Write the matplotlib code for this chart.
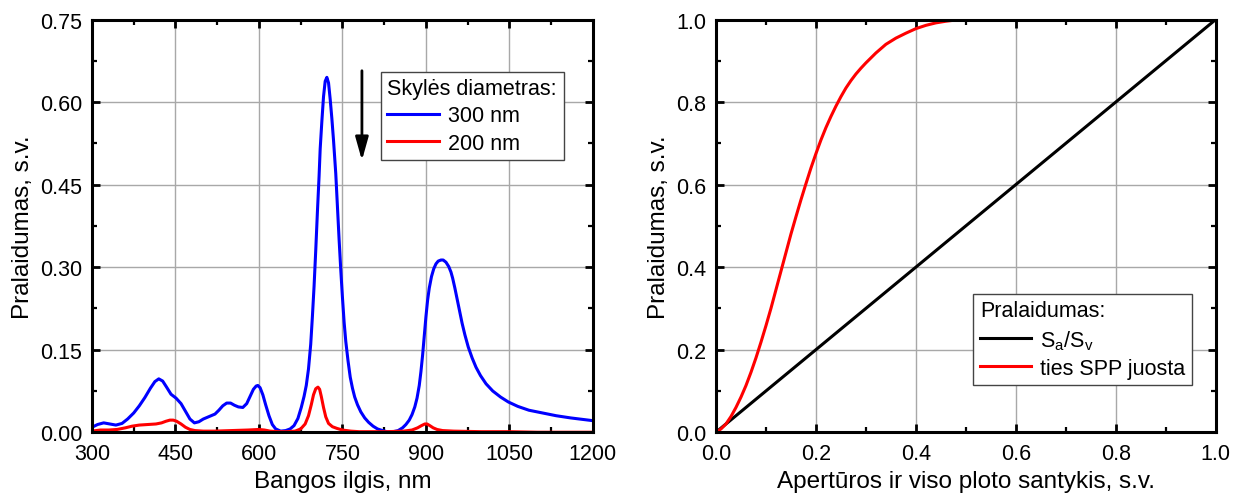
import matplotlib.pyplot as plt
from matplotlib.ticker import MultipleLocator

plt.rcParams['font.family'] = ['Liberation Sans', 'DejaVu Sans']

# left panel: transmission spectra
wl_300 = [300, 310, 321, 332, 343, 354, 364, 375, 385, 395, 405, 413, 420, 427, 434, 442, 451, 460,
          468, 476, 484, 492, 500, 507, 514, 521, 528, 535, 542, 549, 556, 563, 571, 578, 584, 590,
          595, 598, 602, 607, 612, 618, 624, 630, 639, 648, 656, 663, 670, 676, 681, 685, 689, 693,
          696, 699, 702, 705, 708, 710, 713, 716, 719, 722, 725, 728, 731, 734, 738, 741, 744, 747,
          750, 753, 756, 760, 764, 768, 772, 777, 783, 790, 797, 805, 813, 822, 830, 841, 850, 858,
          864, 870, 875, 880, 884, 888, 891, 894, 897, 900,
          903, 906, 910, 914, 918, 922, 927, 931, 936, 941, 945, 948, 952, 956, 960, 965, 970, 976,
          983, 990, 998, 1008, 1020, 1034, 1048, 1065, 1085, 1110, 1134, 1160, 1185, 1200]
tr_300 = [0.009, 0.014, 0.017, 0.015, 0.013, 0.016, 0.024, 0.035, 0.048, 0.063, 0.080, 0.092, 0.097,
          0.093, 0.082, 0.069, 0.062, 0.052, 0.038, 0.024, 0.017, 0.019, 0.024, 0.027, 0.030, 0.033,
          0.040, 0.048, 0.053, 0.053, 0.049, 0.046, 0.045, 0.052, 0.065, 0.078, 0.084, 0.085, 0.081,
          0.068, 0.050, 0.030, 0.014, 0.006, 0.002, 0.003, 0.006, 0.012, 0.025, 0.045, 0.065, 0.085,
          0.115, 0.160, 0.210, 0.265, 0.330, 0.400, 0.465, 0.515, 0.565, 0.610, 0.638, 0.645, 0.635,
          0.605, 0.570, 0.530, 0.470, 0.410, 0.350, 0.295, 0.245, 0.200, 0.165, 0.130, 0.100, 0.080,
          0.064, 0.050, 0.037, 0.026, 0.018, 0.011, 0.006, 0.003, 0.001, 0.001, 0.003, 0.008, 0.014,
          0.022, 0.032, 0.046, 0.062, 0.085, 0.110, 0.140, 0.175, 0.210,
          0.240, 0.262, 0.283, 0.297, 0.306, 0.311, 0.313, 0.313, 0.309, 0.301, 0.291, 0.280, 0.262,
          0.242, 0.222, 0.198, 0.177, 0.155, 0.135, 0.118, 0.103, 0.088, 0.075, 0.064, 0.055, 0.047,
          0.040, 0.035, 0.030, 0.026, 0.023, 0.021]

wl_200 = [300, 315, 330, 345, 360, 372, 385, 400, 415, 425, 433, 440, 446, 452, 460, 468, 476, 485,
          500, 520, 550, 580, 600, 610, 620, 635, 650, 665, 675, 683, 689, 694, 698, 702, 706, 709,
          712, 716, 720, 725, 732, 740, 750, 765, 780, 800, 830, 860, 875, 885, 892, 898, 902, 907,
          913, 920, 930, 950, 1000, 1050, 1100, 1150, 1200]
tr_200 = [0.002, 0.004, 0.004, 0.005, 0.008, 0.011, 0.013, 0.014, 0.015, 0.017, 0.020, 0.022, 0.022,
          0.020, 0.015, 0.009, 0.005, 0.003, 0.002, 0.002, 0.003, 0.004, 0.005, 0.004, 0.002, 0.001,
          0.001, 0.002, 0.006, 0.015, 0.030, 0.050, 0.068, 0.079, 0.082, 0.078, 0.065, 0.045, 0.028,
          0.016, 0.010, 0.007, 0.004, 0.002, 0.001, 0.001, 0.001, 0.002, 0.004, 0.008, 0.012, 0.015,
          0.015, 0.012, 0.008, 0.005, 0.003, 0.002, 0.001, 0.001, 0.000, 0.000, 0.000]

# right panel: transmission vs aperture ratio
ratio_spp = [0.0, 0.01, 0.02, 0.03, 0.04, 0.05, 0.06, 0.07, 0.08, 0.09, 0.10, 0.11, 0.12, 0.13,
             0.14, 0.15, 0.16, 0.17, 0.18, 0.19, 0.20, 0.21, 0.22, 0.23, 0.24, 0.25, 0.26, 0.27,
             0.28, 0.29, 0.30, 0.32, 0.34, 0.36, 0.38, 0.40, 0.42, 0.44, 0.46, 0.48, 0.50, 1.0]
tr_spp = [0.0, 0.008, 0.02, 0.038, 0.06, 0.085, 0.113, 0.145, 0.18, 0.218, 0.258, 0.30, 0.345,
          0.39, 0.435, 0.48, 0.522, 0.563, 0.602, 0.64, 0.675, 0.708, 0.738, 0.765, 0.79, 0.813,
          0.834, 0.852, 0.868, 0.882, 0.895, 0.919, 0.94, 0.955, 0.967, 0.978, 0.986, 0.992, 0.996,
          0.999, 1.0, 1.0]
ratio_area = [0.0, 1.0]
tr_area = [0.0, 1.0]

fig = plt.figure(figsize=(12.43, 5.02), dpi=100)
ax1 = fig.add_axes([0.074, 0.137, 0.403, 0.822])
ax2 = fig.add_axes([0.576, 0.137, 0.402, 0.822])


def style(ax):
    for s in ax.spines.values():
        s.set_linewidth(2.2)
    ax.tick_params(which='both', direction='in', top=True, right=True, labelsize=15.5)
    ax.tick_params(axis='x', pad=8)
    ax.tick_params(axis='y', pad=7)
    ax.tick_params(which='major', length=6, width=2)
    ax.tick_params(which='minor', length=3.5, width=1.6)
    ax.grid(True, which='major', color='#a8a8a8', lw=1.0)
    ax.set_axisbelow(True)


ax1.plot(wl_300, tr_300, color='#0000ff', lw=2.2, label='300 nm')
ax1.plot(wl_200, tr_200, color='#ff0000', lw=2.2, label='200 nm')
ax1.set_xlim(300, 1200)
ax1.set_ylim(0, 0.75)
ax1.xaxis.set_major_locator(MultipleLocator(150))
ax1.xaxis.set_minor_locator(MultipleLocator(75))
ax1.yaxis.set_major_locator(MultipleLocator(0.15))
ax1.yaxis.set_minor_locator(MultipleLocator(0.075))
ax1.yaxis.set_major_formatter(plt.FormatStrFormatter('%.2f'))
ax1.set_xlabel('Bangos ilgis, nm', fontsize=17.5)
ax1.set_ylabel('Pralaidumas, s.v.', fontsize=17.5)
style(ax1)
leg1 = ax1.legend(title='Skylės diametras:', loc='upper left', bbox_to_anchor=(0.577, 0.874),
                  fontsize=15.5, title_fontsize=15.5, fancybox=False, edgecolor='#444444',
                  framealpha=1, handlelength=2.4, borderpad=0.3, labelspacing=0.3,
                  handletextpad=0.4, borderaxespad=0, alignment='left')
leg1.get_frame().set_linewidth(1.0)
ax1.annotate('', xy=(785, 0.494), xytext=(785, 0.657),
             arrowprops=dict(arrowstyle='-|>,head_length=1.0,head_width=0.28', color='black',
                             lw=2, mutation_scale=14, shrinkA=0, shrinkB=0))

ax2.plot(ratio_area, tr_area, color='black', lw=2.2, label='S$_\\mathregular{a}$/S$_\\mathregular{v}$')
ax2.plot(ratio_spp, tr_spp, color='#ff0000', lw=2.2, label='ties SPP juosta')
ax2.set_xlim(0, 1)
ax2.set_ylim(0, 1)
ax2.xaxis.set_major_locator(MultipleLocator(0.2))
ax2.xaxis.set_minor_locator(MultipleLocator(0.1))
ax2.yaxis.set_major_locator(MultipleLocator(0.2))
ax2.yaxis.set_minor_locator(MultipleLocator(0.1))
ax2.yaxis.set_major_formatter(plt.FormatStrFormatter('%.1f'))
ax2.xaxis.set_major_formatter(plt.FormatStrFormatter('%.1f'))
ax2.set_xlabel('Apertūros ir viso ploto santykis, s.v.', fontsize=17.5)
ax2.set_ylabel('Pralaidumas, s.v.', fontsize=17.5)
style(ax2)
leg2 = ax2.legend(title='Pralaidumas:', loc='upper left', bbox_to_anchor=(0.515, 0.335),
                  fontsize=15.5, title_fontsize=15.5, fancybox=False, edgecolor='#444444',
                  framealpha=1, handlelength=2.4, borderpad=0.3, labelspacing=0.3,
                  handletextpad=0.4, borderaxespad=0, alignment='left')
leg2.get_frame().set_linewidth(1.0)

fig.savefig('out.png', dpi=100)
